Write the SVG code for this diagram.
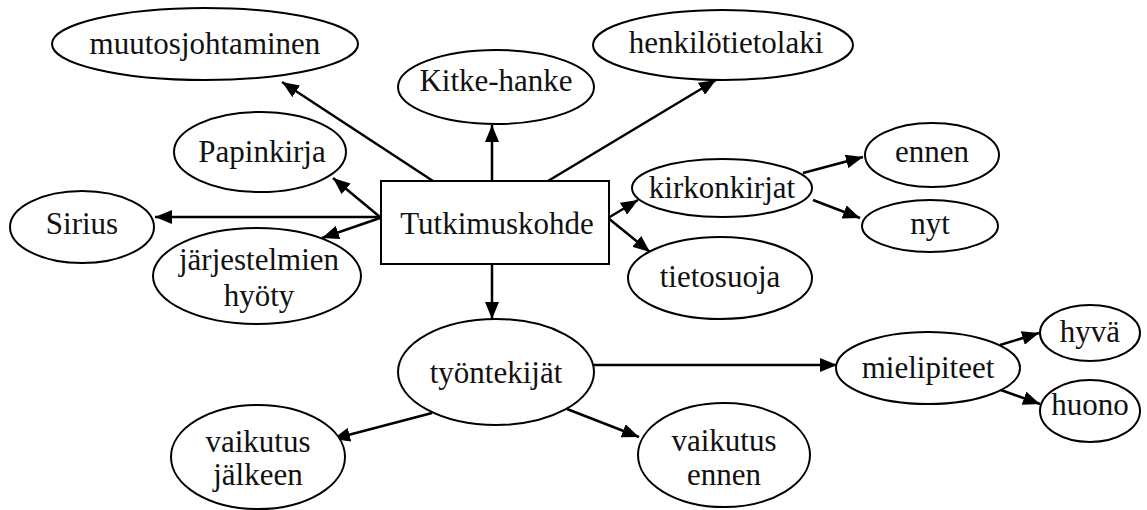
<svg xmlns="http://www.w3.org/2000/svg" width="1147" height="510" viewBox="0 0 1147 510">
<style>
.n ellipse, .n rect { fill: #fff; stroke: #000; stroke-width: 2; }
.n text { font-size: 31px; fill: #111; text-anchor: middle; }
.c line { stroke: #000; stroke-width: 2.5; marker-end: url(#ah); }
</style>
<defs>
<marker id="ah" markerUnits="userSpaceOnUse" markerWidth="18" markerHeight="14" refX="17" refY="7" orient="auto">
<path d="M0,0 L17,7 L0,14 z" fill="#000"/>
</marker>
</defs>
<rect width="1147" height="510" fill="#fff"/>
<g id="connectors" class="c">
<line x1="433" y1="181" x2="282" y2="82"/>
<line x1="492" y1="181" x2="492" y2="125"/>
<line x1="548" y1="181" x2="716" y2="80"/>
<line x1="380" y1="217" x2="333" y2="178"/>
<line x1="380" y1="217" x2="155" y2="217"/>
<line x1="380" y1="218" x2="322" y2="238"/>
<line x1="608" y1="218" x2="638" y2="200"/>
<line x1="608" y1="218" x2="650" y2="252"/>
<line x1="803" y1="173" x2="863" y2="157"/>
<line x1="813" y1="200" x2="860" y2="218"/>
<line x1="492" y1="264" x2="492" y2="319"/>
<line x1="594" y1="365" x2="837" y2="365"/>
<line x1="432" y1="413" x2="333" y2="439"/>
<line x1="567" y1="409" x2="639" y2="437"/>
<line x1="1000" y1="345" x2="1039" y2="333"/>
<line x1="998" y1="389" x2="1040" y2="404"/>
</g>
<g id="muutosjohtaminen" class="n"><ellipse cx="205" cy="44" rx="153" ry="36"/><text x="205" y="54" style="font-family:'Times New Roman'">muutosjohtaminen</text></g>
<g id="kitke-hanke" class="n"><ellipse cx="496" cy="87" rx="98" ry="37"/><text x="496" y="91" style="font-family:'Liberation Serif'">Kitke-hanke</text></g>
<g id="henkilotietolaki" class="n"><ellipse cx="723" cy="45" rx="130" ry="35"/><text x="726" y="53" style="font-family:Tinos">henkilötietolaki</text></g>
<g id="papinkirja" class="n"><ellipse cx="260" cy="152" rx="86" ry="40"/><text x="262" y="162" style="font-family:'Times New Roman'">Papinkirja</text></g>
<g id="sirius" class="n"><ellipse cx="82" cy="227" rx="72" ry="36"/><text x="82" y="234" style="font-family:Tinos">Sirius</text></g>
<g id="jarjestelmien-hyoty" class="n"><ellipse cx="257" cy="276" rx="104" ry="48"/><text x="259" y="270" style="font-family:serif">järjestelmien</text><text x="259" y="306" style="font-family:serif">hyöty</text></g>
<g id="tutkimuskohde" class="n"><rect x="381" y="181" width="228" height="83"/><text x="497" y="234" style="font-family:'Times New Roman'">Tutkimuskohde</text></g>
<g id="kirkonkirjat" class="n"><ellipse cx="722" cy="188" rx="90" ry="29"/><text x="722" y="198" style="font-family:'Liberation Serif'">kirkonkirjat</text></g>
<g id="tietosuoja" class="n"><ellipse cx="720" cy="278" rx="92" ry="41"/><text x="720" y="287" style="font-family:Tinos">tietosuoja</text></g>
<g id="ennen" class="n"><ellipse cx="932" cy="155" rx="67" ry="32"/><text x="932" y="162" style="font-family:'Times New Roman'">ennen</text></g>
<g id="nyt" class="n"><ellipse cx="930" cy="226" rx="68" ry="26"/><text x="930" y="234" style="font-family:serif">nyt</text></g>
<g id="tyontekijat" class="n"><ellipse cx="496" cy="372" rx="98" ry="53"/><text x="496" y="383" style="font-family:'Liberation Serif'">työntekijät</text></g>
<g id="mielipiteet" class="n"><ellipse cx="928" cy="368" rx="92" ry="36"/><text x="928" y="378" style="font-family:Tinos">mielipiteet</text></g>
<g id="hyva" class="n"><ellipse cx="1090" cy="333" rx="50" ry="28"/><text x="1090" y="342" style="font-family:'Times New Roman'">hyvä</text></g>
<g id="huono" class="n"><ellipse cx="1090" cy="411" rx="50" ry="31"/><text x="1090" y="415" style="font-family:serif">huono</text></g>
<g id="vaikutus-jalkeen" class="n"><ellipse cx="258" cy="457" rx="87" ry="52"/><text x="258" y="452" style="font-family:'Liberation Serif'">vaikutus</text><text x="258" y="485" style="font-family:Tinos">jälkeen</text></g>
<g id="vaikutus-ennen" class="n"><ellipse cx="724" cy="455" rx="86" ry="52"/><text x="724" y="451" style="font-family:'Times New Roman'">vaikutus</text><text x="724" y="485" style="font-family:serif">ennen</text></g>
</svg>
